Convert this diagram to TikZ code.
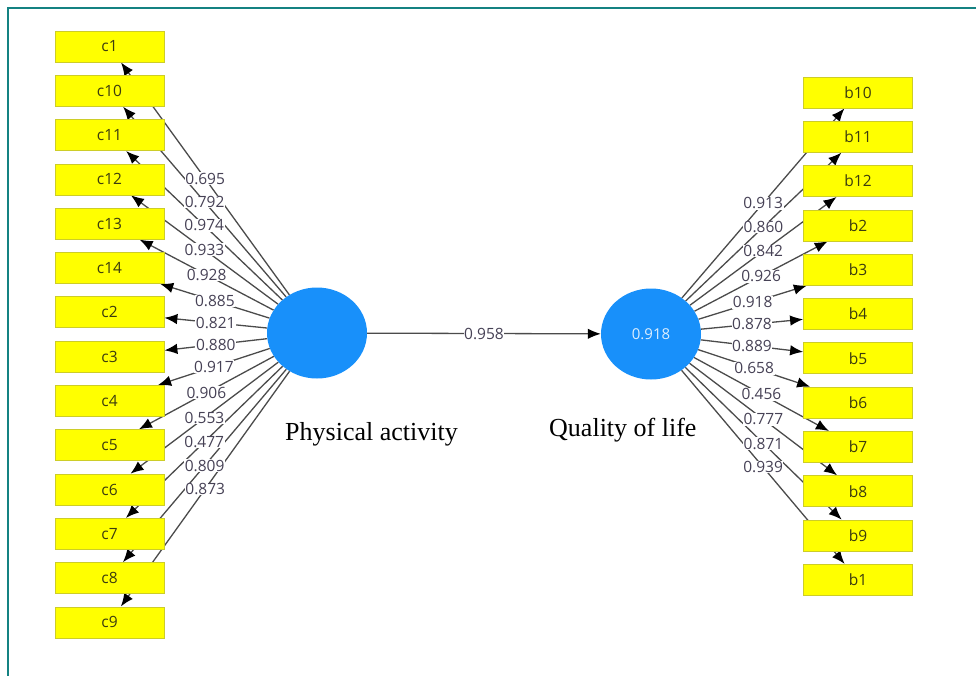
\documentclass[tikz,border=0pt]{standalone}
\usepackage{fontspec}
\setmainfont{Liberation Serif}
\newfontfamily\uifont{Open Sans}
\usetikzlibrary{shapes.geometric,arrows.meta}
\pgfdeclarelayer{bg}
\pgfsetlayers{bg,main}
\definecolor{frameteal}{RGB}{20,130,130}
\definecolor{lvblue}{RGB}{24,144,250}
\definecolor{boxyellow}{RGB}{255,255,0}
\definecolor{boxedge}{RGB}{205,205,40}
\definecolor{boxtext}{RGB}{60,60,15}
\definecolor{lbltext}{RGB}{70,65,85}
\definecolor{linegray}{RGB}{75,75,75}
\tikzset{
  box/.style={draw=boxedge, line width=0.8pt, fill=boxyellow, minimum width=109pt, minimum height=31pt, inner sep=0pt, font=\uifont\fontsize{15.5}{17}\selectfont, text=boxtext},
  lv/.style={ellipse, fill=lvblue, minimum width=100pt, minimum height=91pt, inner sep=0pt, font=\uifont\fontsize{15}{17}\selectfont, text=white!85!lvblue},
  ld/.style={draw=linegray, line width=1.3pt, -{Latex[length=13pt,width=10.5pt,color=black]}},
  lbl/.style={fill=white, inner sep=0.6pt, font=\uifont\fontsize{15.5}{17}\selectfont, text=lbltext},
  lvcaption/.style={font=\fontsize{26}{29}\selectfont, text=black, inner sep=0pt, anchor=base west}
}
\begin{document}
\begin{tikzpicture}[x=1pt,y=-1pt]
\useasboundingbox (0,0) rectangle (976,675);
\draw[frameteal, line width=1.5pt] (8,676) -- (8,8) -- (977,8);
% latent variables
\node[lv] (PA) at (317,333) {};
\node[lv] (QL) at (651,334) {0.918};
\node[lvcaption] (PAcap) at (285,440) {Physical activity};
\node[lvcaption] (QLcap) at (549,436) {Quality of life};
% indicator boxes
\foreach \n [count=\i from 0] in {c1,c10,c11,c12,c13,c14,c2,c3,c4,c5,c6,c7,c8,c9}
  \node[box] (\n) at (109.5,{46.5+44.3*\i}) {\n};
\foreach \n [count=\i from 0] in {b10,b11,b12,b2,b3,b4,b5,b6,b7,b8,b9,b1}
  \node[box] (\n) at (858,{92.5+44.3*\i}) {\n};
% connectors (behind the boxes)
\begin{pgfonlayer}{bg}
\foreach \n in {c1,c10,c11,c12,c13,c14,c2,c3,c4,c5,c6,c7,c8,c9}
  \draw[ld] (PA) -- (\n);
\foreach \n in {b10,b11,b12,b2,b3,b4,b5,b6,b7,b8,b9,b1}
  \draw[ld] (QL) -- (\n);
\draw[ld] (PA) -- (QL);
\end{pgfonlayer}
% loading labels
\foreach \n/\v in {c1/0.695,c10/0.792,c11/0.974,c12/0.933,c13/0.928,c14/0.885,c2/0.821,c3/0.880,c4/0.917,c5/0.906,c6/0.553,c7/0.477,c8/0.809,c9/0.873}
  \path (PA) -- node[lbl] (L\n) {\v} (\n);
\foreach \n/\v in {b10/0.913,b11/0.860,b12/0.842,b2/0.926,b3/0.918,b4/0.878,b5/0.889,b6/0.658,b7/0.456,b8/0.777,b9/0.871,b1/0.939}
  \path (QL) -- node[lbl] (L\n) {\v} (\n);
\path (PA) -- node[lbl] (Lpath) {0.958} (QL);
\end{tikzpicture}
\end{document}
